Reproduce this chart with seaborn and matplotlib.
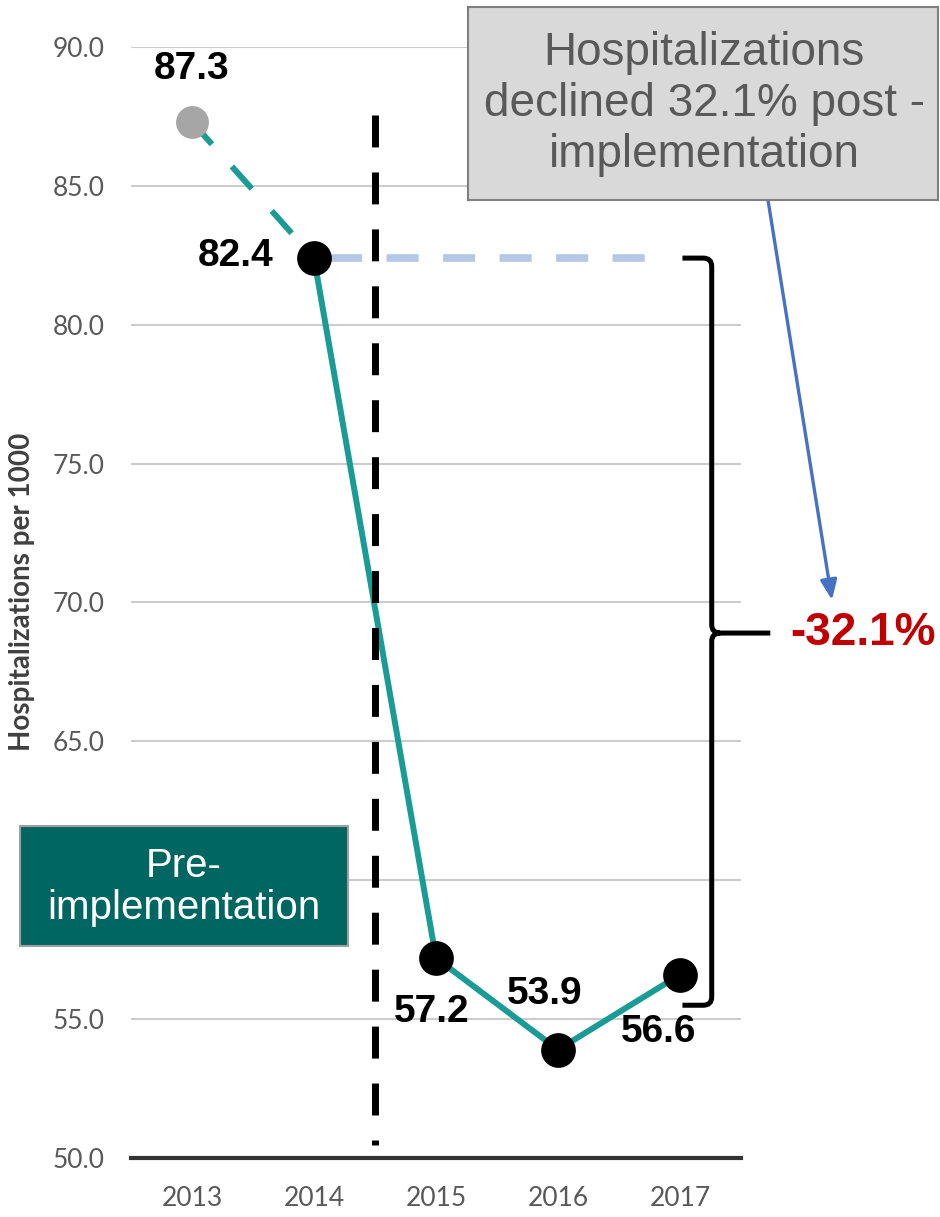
import numpy as np
import pandas as pd
import matplotlib
matplotlib.use('Agg')
import matplotlib.pyplot as plt
from matplotlib.patches import Rectangle, PathPatch
from matplotlib.path import Path
import seaborn as sns

sns.set_style('white')
plt.rcParams['font.family'] = ['Liberation Sans', 'DejaVu Sans']

### Data
years = [2013, 2014, 2015, 2016, 2017]
rates = [87.3, 82.4, 57.2, 53.9, 56.6]
# label offsets (pixels) from each point
label_dx = [0, -78, -4, -13, -21]
label_dy = [53, 2, -54, 56, -57]
yticks = [50, 55, 60, 65, 70, 75, 80, 85, 90]
# 60.0 sits under the pre-implementation box in the original
ytick_labels = ['50.0', '55.0', '', '65.0', '70.0', '75.0', '80.0', '85.0', '90.0']
cut_year = 2014.5
change_text = '-32.1%'
note_text = 'Hospitalizations\ndeclined 32.1% post -\nimplementation'
pre_text = 'Pre-\nimplementation'

teal = '#1a9c96'
W, H = 940, 1217

df = pd.DataFrame({'year': years, 'rate': rates})

fig = plt.figure(figsize=(W / 100, H / 100), dpi=100)
ax = fig.add_axes([131 / W, 59 / H, 610 / W, 1111 / H])

# pre-period dashed segment and post-period solid line
sns.lineplot(data=df.iloc[:2], x='year', y='rate', color=teal, lw=4.3,
             linestyle=(0, (5, 5)), ax=ax, zorder=3)
sns.lineplot(data=df.iloc[1:], x='year', y='rate', color=teal, lw=4.3, ax=ax, zorder=3)
sns.scatterplot(data=df.iloc[:1], x='year', y='rate', color='#a6a6a6', s=560,
                linewidth=0, ax=ax, zorder=5, clip_on=False)
sns.scatterplot(data=df.iloc[1:], x='year', y='rate', color='black', s=625,
                linewidth=0, ax=ax, zorder=5, clip_on=False)

for x, y, dx, dy in zip(years, rates, label_dx, label_dy):
    ax.annotate(f'{y:.1f}', (x, y), xytext=(dx, dy), textcoords='offset pixels',
                ha='center', va='center', fontsize=28, fontweight='bold',
                color='black', annotation_clip=False, zorder=6)

# implementation cut line
ax.plot([cut_year, cut_year], [87.55, 50.47], color='black', lw=5,
        dashes=(4.6, 3.6), zorder=4, clip_on=False)

# reference level of 2014
ax.plot([2014.13, 2016.88], [rates[1], rates[1]], color='#b4c7e7', lw=5.5,
        dashes=(4.2, 3.2), zorder=2)

# curly bracket
xl, xr, xt = 2017.02, 2017.26, 2017.74
yt, ym, yb = rates[1], 68.9, 55.5
rx, ry = 0.07, 0.3
verts = [(xl, yt), (xr - rx, yt), (xr, yt), (xr, yt - ry), (xr, ym + ry), (xr, ym), (xr + rx, ym), (xt, ym),
         (xr + rx, ym), (xr, ym), (xr, ym - ry), (xr, yb + ry), (xr, yb), (xr - rx, yb), (xl, yb)]
codes = [Path.MOVETO, Path.LINETO, Path.CURVE3, Path.CURVE3, Path.LINETO, Path.CURVE3, Path.CURVE3, Path.LINETO,
         Path.MOVETO, Path.CURVE3, Path.CURVE3, Path.LINETO, Path.CURVE3, Path.CURVE3, Path.LINETO]
ax.add_patch(PathPatch(Path(verts, codes), fill=False, lw=3.6, color='black',
                       clip_on=False, zorder=4))
ax.text(xt + 0.16, ym, change_text, ha='left', va='center', fontsize=33,
        fontweight='bold', color='#c00000', clip_on=False)

### Axes styling
ax.set_xlim(2012.5, 2017.5)
ax.set_ylim(50, 90)
ax.set_xticks(years)
ax.set_xticklabels([str(y) for y in years])
ax.set_yticks(yticks)
ax.set_yticklabels(ytick_labels)
ax.set_xlabel('')
ax.set_ylabel('')
ax.yaxis.grid(True, color='#cccccc', lw=1.5)
ax.set_axisbelow(True)
for s in ['top', 'right', 'left']:
    ax.spines[s].set_visible(False)
ax.spines['bottom'].set_color('#333333')
ax.spines['bottom'].set_linewidth(3)
ax.tick_params(axis='both', length=0, labelsize=19, labelcolor='#595959')
ax.tick_params(axis='y', pad=19)
ax.tick_params(axis='x', pad=20)
for lab in ax.get_xticklabels() + ax.get_yticklabels():
    lab.set_family(['Lato', 'DejaVu Sans'])

fig.text(22 / W, 1 - 592 / H, 'Hospitalizations per 1000', rotation=90,
         ha='center', va='center', fontsize=20, fontweight='bold',
         color='#404040', family=['Lato', 'DejaVu Sans'])

### Annotation boxes
fig.add_artist(Rectangle((468 / W, 1 - 200 / H), 470 / W, 193 / H, transform=fig.transFigure,
                         facecolor='#d9d9d9', edgecolor='#7f7f7f', lw=1.5, zorder=10))
fig.text(704 / W, 1 - 104 / H, note_text, ha='center', va='center', fontsize=33,
         color='#595959', linespacing=1.22, zorder=11)

fig.add_artist(Rectangle((20 / W, 1 - 946 / H), 328 / W, 120 / H, transform=fig.transFigure,
                         facecolor='#006661', edgecolor='#a0a0a0', lw=1.5, zorder=10))
fig.text(184 / W, 1 - 887 / H, pre_text, ha='center', va='center', fontsize=29,
         color='white', linespacing=1.15, zorder=11)

ax.annotate('', xy=(832 / W, 1 - 600 / H), xytext=(768 / W, 1 - 200 / H),
            xycoords='figure fraction', textcoords='figure fraction',
            arrowprops=dict(arrowstyle='-|>,head_length=1.2,head_width=0.5',
                            color='#4472c4', lw=2.4, shrinkA=0, shrinkB=0),
            annotation_clip=False)

fig.savefig('out.png', dpi=100)
